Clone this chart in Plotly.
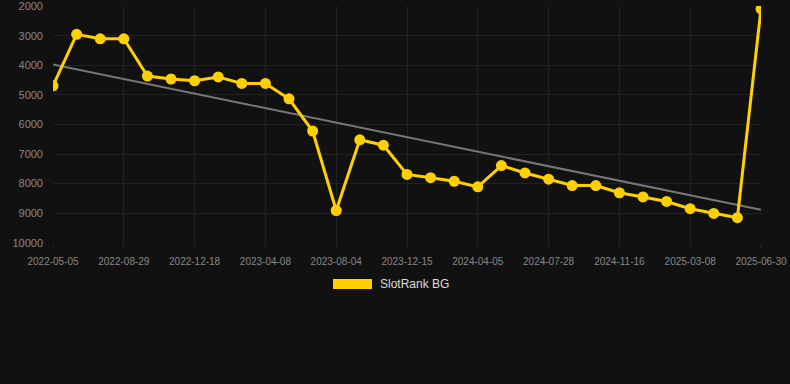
import numpy as np
import plotly.graph_objects as go

dates = [
    "2022-05-05", "2022-06-12", "2022-07-21", "2022-08-29", "2022-10-05", "2022-11-11",
    "2022-12-18", "2023-01-25", "2023-03-02", "2023-04-08", "2023-05-17", "2023-06-26",
    "2023-08-04", "2023-09-17", "2023-10-31", "2023-12-15", "2024-01-21", "2024-02-28",
    "2024-04-05", "2024-05-13", "2024-06-20", "2024-07-28", "2024-09-03", "2024-10-10",
    "2024-11-16", "2024-12-24", "2025-01-30", "2025-03-08", "2025-04-15", "2025-05-23",
    "2025-06-30",
]
ranks = [
    4690, 2950, 3100, 3100, 4360, 4460, 4520, 4390, 4610, 4610, 5130, 6220,
    8910, 6520, 6700, 7690, 7800, 7920, 8110, 7390, 7640, 7850, 8065, 8065,
    8310, 8450, 8605, 8850, 9010, 9155, 2090,
]
y_ticks = [2000, 3000, 4000, 5000, 6000, 7000, 8000, 9000, 10000]
series_name = "SlotRank BG"

idx = np.arange(len(dates))
slope, intercept = np.polyfit(idx, ranks, 1)
trend = slope * idx + intercept

tick_idx = list(range(0, len(dates), 3))

fig = go.Figure()
fig.add_trace(go.Scatter(
    x=idx, y=trend, mode="lines",
    line=dict(color="#777777", width=2),
    hoverinfo="skip", showlegend=False,
))
fig.add_trace(go.Scatter(
    x=idx, y=ranks, mode="lines+markers", name=series_name,
    line=dict(color="#FFD000", width=3),
    marker=dict(color="#FFD000", size=11),
    text=dates, showlegend=False,
))

fig.update_layout(
    width=790, height=384,
    margin=dict(l=53, r=29, t=6, b=141),
    paper_bgcolor="#111111", plot_bgcolor="#111111",
    font=dict(family="Liberation Sans, Arial, sans-serif", color="#888888", size=11),
    xaxis=dict(
        range=[-0.001, len(dates) - 1 + 0.001],
        tickvals=tick_idx, ticktext=[dates[i] for i in tick_idx],
        showgrid=True, gridcolor="#222222", gridwidth=1,
        zeroline=False, showline=False, automargin=False,
        ticks="outside", ticklen=5, tickcolor="#222222",
        ticklabelstandoff=4,
        tickfont=dict(size=10, color="#888888"),
    ),
    yaxis=dict(
        range=[10010, 1990],
        tickvals=y_ticks, ticktext=[str(v) for v in y_ticks],
        showgrid=True, gridcolor="#222222", gridwidth=1,
        zeroline=False, showline=False, automargin=False,
        ticks="", ticklabelstandoff=9,
        tickfont=dict(size=11, color="#888888"),
    ),
    showlegend=False,
)

# legend drawn as a swatch + label
fig.add_shape(type="rect", xref="paper", yref="paper",
              x0=(333 - 53) / 708, x1=(372 - 53) / 708,
              y0=(243 - 289) / 237, y1=(243 - 279) / 237,
              fillcolor="#FFD000", line=dict(width=0))
fig.add_annotation(xref="paper", yref="paper",
                   x=(378 - 53) / 708, y=(243 - 284) / 237,
                   xanchor="left", yanchor="middle", showarrow=False,
                   text=series_name, font=dict(size=12, color="#DDDDDD"))

fig.write_html("out.html", config={"displayModeBar": False})
with open("out.html", "r", encoding="utf-8") as f:
    html = f.read()
html = html.replace("<head>", "<head><style>html,body{margin:0;padding:0;background:#111111;}</style>", 1)
with open("out.html", "w", encoding="utf-8") as f:
    f.write(html)
